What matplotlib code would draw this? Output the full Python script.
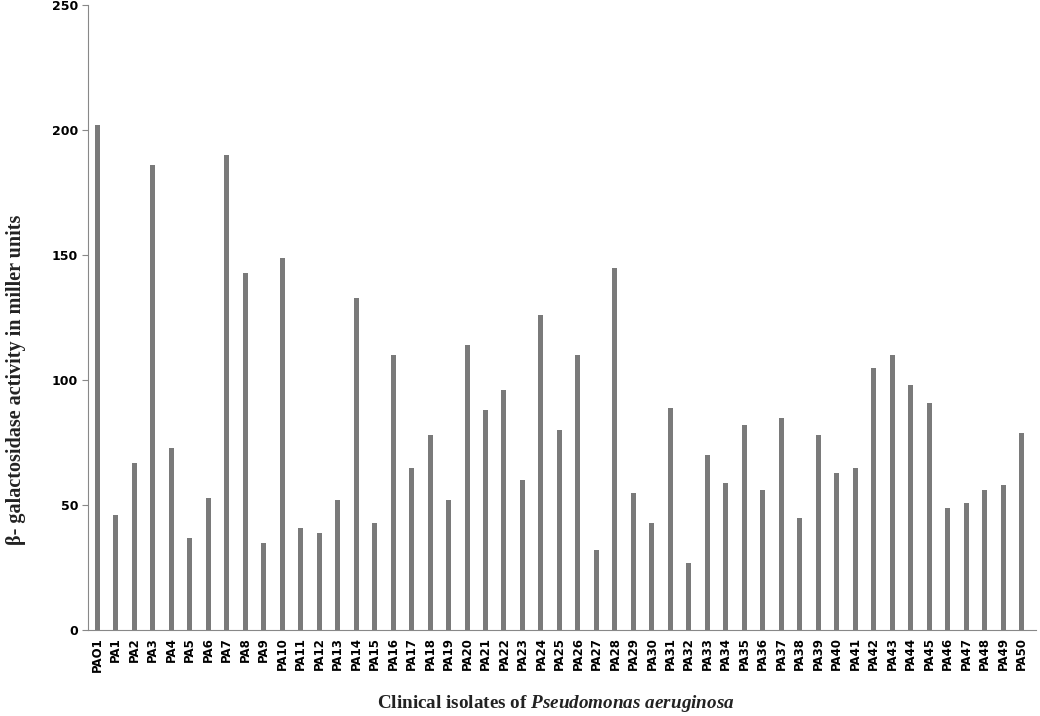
import numpy as np
import matplotlib.pyplot as plt

# isolates and beta-galactosidase activity (miller units)
isolates = ['PAO1'] + ['PA%d' % i for i in range(1, 51)]
activity = [202, 46, 67, 186, 73, 37, 53, 190, 143, 35,
            149, 41, 39, 52, 133, 43, 110, 65, 78, 52,
            114, 88, 96, 60, 126, 80, 110, 32, 145, 55,
            43, 89, 27, 70, 59, 82, 56, 85, 45, 78,
            63, 65, 105, 110, 98, 91, 49, 51, 56, 58,
            79]
yticks = [0, 50, 100, 150, 200, 250]

plt.rcParams['mathtext.fontset'] = 'custom'
plt.rcParams['mathtext.it'] = 'Liberation Serif:italic:bold'
plt.rcParams['mathtext.rm'] = 'Liberation Serif:bold'

fig = plt.figure(figsize=(10.4, 7.16), dpi=100)
ax = fig.add_axes([0.0846, 0.12, 0.912, 0.873])

x = np.arange(len(isolates))
ax.bar(x, activity, width=0.27, color='#7a7a7a')

ax.set_xlim(-0.5, 50.8)
ax.set_ylim(0, 250)
ax.set_yticks(yticks)
ax.set_yticklabels([str(t) for t in yticks], fontsize=9, fontweight='bold',
                   family='DejaVu Sans')
ax.set_xticks(x)
ax.set_xticklabels(isolates, rotation=90, fontsize=8.5, fontweight='bold',
                   family='DejaVu Sans')
ax.tick_params(axis='x', length=0, pad=5)
ax.tick_params(axis='y', length=4, color='#888888', pad=3)

for s in ['top', 'right']:
    ax.spines[s].set_visible(False)
ax.spines['left'].set_color('#888888')
ax.spines['bottom'].set_color('#888888')

fig.text(0.015, 0.47, 'β- galactosidase activity in miller units', rotation=90,
         ha='center', va='center', fontsize=14.5, fontweight='bold',
         family='Liberation Serif', color='#222222')
fig.text(0.534, 0.018, r'Clinical isolates of $\mathit{Pseudomonas\ aeruginosa}$',
         ha='center', va='center', fontsize=13.8, fontweight='bold',
         family='Liberation Serif', color='#222222')

fig.savefig('out.png', dpi=100)
